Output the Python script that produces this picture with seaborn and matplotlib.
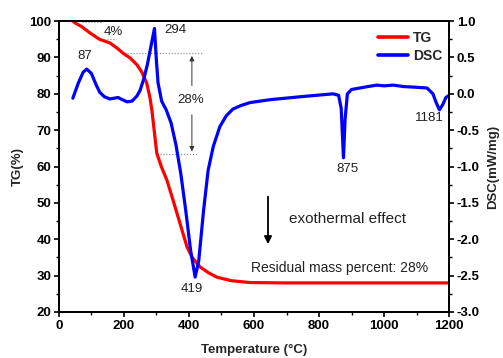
import matplotlib
matplotlib.use("Agg")
import matplotlib.pyplot as plt
from matplotlib.ticker import MultipleLocator, FormatStrFormatter
import seaborn as sns
import pandas as pd

# ---- data ----
tg_temp = [43, 50, 70, 95, 125, 157, 180, 197, 220, 240, 255, 270, 280, 286, 293, 301,
           315, 332, 351, 372, 394, 410, 434, 460, 485, 530, 588, 700, 1200]
tg_vals = [100, 99.5, 98.5, 96.8, 95, 94, 92.5, 91.2, 89.8, 88, 86, 83, 79, 75.5, 70, 63.7,
           60, 56.3, 50.8, 44.5, 37.9, 35, 32.4, 30.8, 29.6, 28.6, 28.1, 28, 28]

dsc_temp = [43, 60, 75, 86, 100, 115, 126, 140, 157, 170, 182, 195, 210, 225, 240, 250,
            262, 272, 283, 294, 300, 305, 316, 330, 345, 360, 375, 390, 405, 419, 430,
            445, 459, 475, 495, 515, 535, 560, 588, 650, 742, 843, 860, 868, 875, 880,
            887, 900, 950, 978, 1000, 1028, 1060, 1100, 1132, 1150, 1160, 1170, 1180,
            1190, 1200]
dsc_vals = [-0.06, 0.15, 0.30, 0.34, 0.28, 0.12, 0.02, -0.04, -0.07, -0.06, -0.05, -0.08,
            -0.11, -0.10, -0.03, 0.05, 0.22, 0.40, 0.65, 0.90, 0.45, 0.15, -0.10, -0.22,
            -0.40, -0.70, -1.10, -1.60, -2.15, -2.52, -2.30, -1.60, -1.05, -0.72, -0.45,
            -0.30, -0.21, -0.16, -0.12, -0.08, -0.04, 0.00, -0.02, -0.20, -0.88, -0.35,
            0.00, 0.06, 0.10, 0.12, 0.11, 0.12, 0.10, 0.09, 0.08, 0.00, -0.12, -0.22,
            -0.15, -0.05, -0.02]

series_names = ["TG", "DSC"]
x_label = "Temperature (\u00b0C)"
y_left_label = "TG(%)"
y_right_label = "DSC(mW/mg)"

sns.set_theme(style="white")
plt.rcParams["font.family"] = ["Liberation Sans", "DejaVu Sans"]

df_tg = pd.DataFrame({"T": tg_temp, "v": tg_vals})
df_dsc = pd.DataFrame({"T": dsc_temp, "v": dsc_vals})

fig = plt.figure(figsize=(5.03, 3.58), dpi=100)
ax = fig.add_axes([0.117, 0.1285, 0.776, 0.8125])
ax2 = ax.twinx()

sns.lineplot(data=df_tg, x="T", y="v", ax=ax, color="#ff0000", lw=2.3,
             estimator=None, sort=False, label=series_names[0], legend=False)
sns.lineplot(data=df_dsc, x="T", y="v", ax=ax2, color="#0000ff", lw=2.3,
             estimator=None, sort=False, label=series_names[1], legend=False)

ax.set_xlim(0, 1200)
ax.set_ylim(20, 100)
ax2.set_ylim(-3.0, 1.0)

ax.xaxis.set_major_locator(MultipleLocator(200))
ax.xaxis.set_minor_locator(MultipleLocator(100))
ax.yaxis.set_major_locator(MultipleLocator(10))
ax.yaxis.set_minor_locator(MultipleLocator(5))
ax2.yaxis.set_major_locator(MultipleLocator(0.5))
ax2.yaxis.set_minor_locator(MultipleLocator(0.25))
ax2.yaxis.set_major_formatter(FormatStrFormatter("%.1f"))

for a in (ax, ax2):
    for s in a.spines.values():
        s.set_color("black")
        s.set_linewidth(1.3)
    a.tick_params(which="major", direction="out", length=3.5, width=1.2, colors="black",
                  labelsize=9.5, pad=2)
    a.tick_params(which="minor", direction="out", length=2, width=1, colors="black")
ax.tick_params(axis="x", which="both", bottom=True)
ax.tick_params(axis="y", which="both", left=True)
ax2.tick_params(axis="y", which="both", right=True)
for lab in ax.get_xticklabels() + ax.get_yticklabels() + ax2.get_yticklabels():
    lab.set_fontweight("bold")

ax.set_xlabel(x_label, fontsize=9.5, fontweight="bold", labelpad=9)
ax.set_ylabel(y_left_label, fontsize=9.5, fontweight="bold", labelpad=4)
ax2.set_ylabel(y_right_label, fontsize=9.5, fontweight="bold", labelpad=5)

# legend
h1, l1 = ax.get_legend_handles_labels()
h2, l2 = ax2.get_legend_handles_labels()
leg = ax2.legend(h1 + h2, l1 + l2, loc="upper left", bbox_to_anchor=(0.785, 1.01),
                 frameon=False, prop={"weight": "bold", "size": 10},
                 handlelength=2.2, handletextpad=0.35, labelspacing=0.3)
for ln in leg.get_lines():
    ln.set_linewidth(2.6)

# annotations
tc = "#222222"
fs = 9.5
ax.text(166, 97.0, "4%", fontsize=fs, color=tc, ha="center", va="center")
ax.text(80, 90.3, "87", fontsize=fs, color=tc, ha="center", va="center")
ax.text(358, 97.6, "294", fontsize=fs, color=tc, ha="center", va="center")
ax.text(409, 26.4, "419", fontsize=fs, color=tc, ha="center", va="center")
ax.text(886, 59.4, "875", fontsize=fs, color=tc, ha="center", va="center")
ax.text(1138, 73.3, "1181", fontsize=fs, color=tc, ha="center", va="center")
ax.text(405, 78.3, "28%", fontsize=fs, color=tc, ha="center", va="center")
ax.text(886, 45.6, "exothermal effect", fontsize=11, color=tc, ha="center", va="center")
ax.text(862, 32.0, "Residual mass percent: 28%", fontsize=10, color=tc, ha="center", va="center")

# dotted guide lines
dot = dict(color="#888888", lw=0.8, ls=":")
ax.plot([70, 130], [99.7, 99.7], **dot)
ax.plot([140, 175], [95.0, 95.0], **dot)
ax.plot([209, 440], [91.2, 91.2], **dot)
ax.plot([311, 425], [63.4, 63.4], **dot)

# 28% double arrow
arr = dict(arrowstyle="-|>", color="#333333", lw=0.7, mutation_scale=7)
ax.annotate("", xy=(409, 91.2), xytext=(409, 81.5), arrowprops=arr)
ax.annotate("", xy=(409, 63.4), xytext=(409, 75.0), arrowprops=arr)

# exothermal arrow
ax.annotate("", xy=(643, 37.9), xytext=(643, 52.5),
            arrowprops=dict(arrowstyle="-|>", color="black", lw=1.3, mutation_scale=11))

fig.savefig("out.png", dpi=100)
